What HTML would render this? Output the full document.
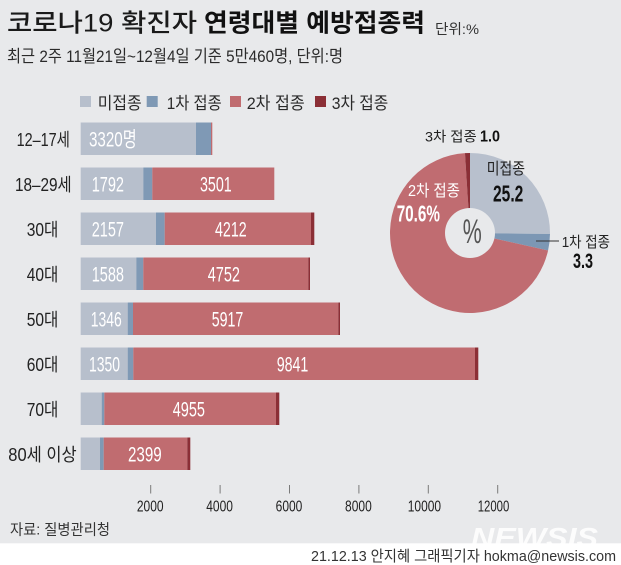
<!DOCTYPE html>
<html><head><meta charset="utf-8">
<style>
html,body{margin:0;padding:0;background:#e8e9eb;}
svg{display:block;}
text{font-family:"Liberation Sans","Noto Sans CJK KR",sans-serif;}
</style></head>
<body>
<svg width="621" height="565" viewBox="0 0 621 565" xmlns="http://www.w3.org/2000/svg">
<rect x="0" y="0" width="621" height="565" fill="#e8e9eb"/>
<rect x="0" y="543.3" width="621" height="22" fill="#ffffff"/>

<!-- Title -->
<text x="7" y="31.5" font-size="25" font-weight="500" fill="#1a1a1a" textLength="190" lengthAdjust="spacingAndGlyphs">코로나19 확진자</text>
<text x="204" y="31.5" font-size="25" font-weight="bold" fill="#111" textLength="221" lengthAdjust="spacingAndGlyphs">연령대별 예방접종력</text>
<text x="435" y="34" font-size="14" fill="#333" textLength="44" lengthAdjust="spacingAndGlyphs">단위:%</text>

<!-- Subtitle -->
<text x="7" y="62" font-size="17" fill="#2a2a2a" textLength="336" lengthAdjust="spacingAndGlyphs">최근 2주 11월21일~12월4일 기준 5만460명, 단위:명</text>

<!-- Legend -->
<rect x="80" y="96" width="11" height="11" fill="#b7bfcc"/>
<text x="97.7" y="109" font-size="17" fill="#2a2a2a" textLength="44" lengthAdjust="spacingAndGlyphs">미접종</text>
<rect x="146.7" y="96" width="11" height="11" fill="#7f99b5"/>
<text x="166.7" y="109" font-size="17" fill="#2a2a2a" textLength="55" lengthAdjust="spacingAndGlyphs">1차 접종</text>
<rect x="230" y="96" width="11" height="11" fill="#c06c70"/>
<text x="246.7" y="109" font-size="17" fill="#2a2a2a" textLength="58" lengthAdjust="spacingAndGlyphs">2차 접종</text>
<rect x="315" y="96" width="11" height="11" fill="#8b2f36"/>
<text x="331.7" y="109" font-size="17" fill="#2a2a2a" textLength="56.6" lengthAdjust="spacingAndGlyphs">3차 접종</text>

<!-- Row labels -->
<g font-size="18" fill="#222" text-anchor="middle">
<text x="43.3" y="146" textLength="53.3" lengthAdjust="spacingAndGlyphs">12–17세</text>
<text x="43.3" y="191" textLength="56.7" lengthAdjust="spacingAndGlyphs">18–29세</text>
<text x="42.5" y="236" textLength="31.6" lengthAdjust="spacingAndGlyphs">30대</text>
<text x="42.5" y="281" textLength="31.6" lengthAdjust="spacingAndGlyphs">40대</text>
<text x="42.5" y="326" textLength="31.6" lengthAdjust="spacingAndGlyphs">50대</text>
<text x="42.5" y="371" textLength="31.6" lengthAdjust="spacingAndGlyphs">60대</text>
<text x="42.5" y="416" textLength="31.6" lengthAdjust="spacingAndGlyphs">70대</text>
<text x="42.5" y="461" textLength="68.4" lengthAdjust="spacingAndGlyphs">80세 이상</text>
</g>

<!-- Bars -->
<g>
<!-- row1 -->
<rect x="80.7" y="122.5" width="115.3" height="32.5" fill="#b7bfcc"/>
<rect x="196" y="122.5" width="15" height="32.5" fill="#7f99b5"/>
<rect x="211" y="122.5" width="1.3" height="32.5" fill="#c06c70"/>
<!-- row2 -->
<rect x="80.7" y="167.5" width="62.6" height="32.5" fill="#b7bfcc"/>
<rect x="143.3" y="167.5" width="9" height="32.5" fill="#7f99b5"/>
<rect x="152.3" y="167.5" width="122" height="32.5" fill="#c06c70"/>
<!-- row3 -->
<rect x="80.7" y="212.5" width="75.3" height="32.5" fill="#b7bfcc"/>
<rect x="156" y="212.5" width="8.7" height="32.5" fill="#7f99b5"/>
<rect x="164.7" y="212.5" width="146.3" height="32.5" fill="#c06c70"/>
<rect x="311" y="212.5" width="3.3" height="32.5" fill="#8b2f36"/>
<!-- row4 -->
<rect x="80.7" y="257.5" width="55.6" height="32.5" fill="#b7bfcc"/>
<rect x="136.3" y="257.5" width="7" height="32.5" fill="#7f99b5"/>
<rect x="143.3" y="257.5" width="165" height="32.5" fill="#c06c70"/>
<rect x="308.3" y="257.5" width="1.7" height="32.5" fill="#8b2f36"/>
<!-- row5 -->
<rect x="80.7" y="302.5" width="47" height="32.5" fill="#b7bfcc"/>
<rect x="127.7" y="302.5" width="5.3" height="32.5" fill="#7f99b5"/>
<rect x="133" y="302.5" width="205.3" height="32.5" fill="#c06c70"/>
<rect x="338.3" y="302.5" width="1.7" height="32.5" fill="#8b2f36"/>
<!-- row6 -->
<rect x="80.7" y="347.5" width="47" height="32.5" fill="#b7bfcc"/>
<rect x="127.7" y="347.5" width="5.6" height="32.5" fill="#7f99b5"/>
<rect x="133.3" y="347.5" width="341.7" height="32.5" fill="#c06c70"/>
<rect x="475" y="347.5" width="3.3" height="32.5" fill="#8b2f36"/>
<!-- row7 -->
<rect x="80.7" y="392.5" width="21" height="32.5" fill="#b7bfcc"/>
<rect x="101.7" y="392.5" width="2.6" height="32.5" fill="#7f99b5"/>
<rect x="104.3" y="392.5" width="171.7" height="32.5" fill="#c06c70"/>
<rect x="276" y="392.5" width="3.3" height="32.5" fill="#8b2f36"/>
<!-- row8 -->
<rect x="80.7" y="437.5" width="19.3" height="32.5" fill="#b7bfcc"/>
<rect x="100" y="437.5" width="3.7" height="32.5" fill="#7f99b5"/>
<rect x="103.7" y="437.5" width="83.6" height="32.5" fill="#c06c70"/>
<rect x="187.3" y="437.5" width="3" height="32.5" fill="#8b2f36"/>
</g>

<!-- Bar value labels -->
<g font-size="21" fill="#ffffff">
<text x="89" y="146.7" textLength="47.7" lengthAdjust="spacingAndGlyphs">3320명</text>
<text x="91.7" y="191.7" textLength="32.3" lengthAdjust="spacingAndGlyphs">1792</text>
<text x="200" y="191.7" textLength="31.7" lengthAdjust="spacingAndGlyphs">3501</text>
<text x="91.7" y="236.7" textLength="32.3" lengthAdjust="spacingAndGlyphs">2157</text>
<text x="215" y="236.7" textLength="31.7" lengthAdjust="spacingAndGlyphs">4212</text>
<text x="91.7" y="281.7" textLength="32.3" lengthAdjust="spacingAndGlyphs">1588</text>
<text x="207.7" y="281.7" textLength="32.3" lengthAdjust="spacingAndGlyphs">4752</text>
<text x="90.7" y="326.7" textLength="31" lengthAdjust="spacingAndGlyphs">1346</text>
<text x="211.7" y="326.7" textLength="31.6" lengthAdjust="spacingAndGlyphs">5917</text>
<text x="89" y="371.7" textLength="31" lengthAdjust="spacingAndGlyphs">1350</text>
<text x="276.7" y="371.7" textLength="31.6" lengthAdjust="spacingAndGlyphs">9841</text>
<text x="172.7" y="416.7" textLength="32.3" lengthAdjust="spacingAndGlyphs">4955</text>
<text x="128" y="461.7" textLength="33.7" lengthAdjust="spacingAndGlyphs">2399</text>
</g>

<!-- Axis ticks -->
<g stroke="#7a7a7a" stroke-width="1">
<line x1="150.7" y1="485" x2="150.7" y2="493.5"/>
<line x1="220.1" y1="485" x2="220.1" y2="493.5"/>
<line x1="289.5" y1="485" x2="289.5" y2="493.5"/>
<line x1="358.9" y1="485" x2="358.9" y2="493.5"/>
<line x1="428.3" y1="485" x2="428.3" y2="493.5"/>
<line x1="497.7" y1="485" x2="497.7" y2="493.5"/>
</g>
<g font-size="16" fill="#222" text-anchor="middle">
<text x="150.2" y="511.7" textLength="26.7" lengthAdjust="spacingAndGlyphs">2000</text>
<text x="219.6" y="511.7" textLength="26.7" lengthAdjust="spacingAndGlyphs">4000</text>
<text x="289" y="511.7" textLength="26.7" lengthAdjust="spacingAndGlyphs">6000</text>
<text x="358.4" y="511.7" textLength="26.7" lengthAdjust="spacingAndGlyphs">8000</text>
<text x="424.4" y="511.7" textLength="33.3" lengthAdjust="spacingAndGlyphs">10000</text>
<text x="493.5" y="511.7" textLength="31.6" lengthAdjust="spacingAndGlyphs">12000</text>
</g>

<!-- Pie -->
<path d="M470,233 L470,153 A80,80 0 0 1 549.99,234 Z" fill="#b8c0cd"/>
<path d="M470,233 L549.99,234 A80,80 0 0 1 548.07,250.45 Z" fill="#7c97b4"/>
<path d="M470,233 L548.07,250.45 A80,80 0 1 1 464.98,153.16 Z" fill="#c06c71"/>
<path d="M470,233 L464.98,153.16 A80,80 0 0 1 470,153 Z" fill="#8a2f36"/>
<circle cx="470" cy="233" r="25" fill="#e8e9eb"/>
<text x="462.7" y="243" font-size="34" fill="#555" textLength="19" lengthAdjust="spacingAndGlyphs">%</text>

<text x="425" y="141.5" font-size="14" fill="#222" textLength="51.7" lengthAdjust="spacingAndGlyphs">3차 접종</text>
<text x="480" y="141.7" font-size="16" font-weight="bold" fill="#111" textLength="20" lengthAdjust="spacingAndGlyphs">1.0</text>

<text x="486.7" y="174" font-size="16" fill="#222" textLength="38.3" lengthAdjust="spacingAndGlyphs">미접종</text>
<text x="493" y="201.7" font-size="23" font-weight="bold" fill="#111" textLength="30.3" lengthAdjust="spacingAndGlyphs">25.2</text>

<text x="408" y="196" font-size="16" fill="#ffffff" textLength="52" lengthAdjust="spacingAndGlyphs">2차 접종</text>
<text x="396.7" y="221.7" font-size="23" font-weight="bold" fill="#ffffff" textLength="43.3" lengthAdjust="spacingAndGlyphs">70.6%</text>

<line x1="536" y1="241" x2="559" y2="241" stroke="#333" stroke-width="1"/>
<text x="561.7" y="247" font-size="15" fill="#222" textLength="48.3" lengthAdjust="spacingAndGlyphs">1차 접종</text>
<text x="573" y="268" font-size="21" font-weight="bold" fill="#111" textLength="20" lengthAdjust="spacingAndGlyphs">3.3</text>

<!-- Footer -->
<text x="10" y="534.5" font-size="15" fill="#333" textLength="100" lengthAdjust="spacingAndGlyphs">자료: 질병관리청</text>
<text x="471" y="547" font-size="28" font-weight="bold" font-style="italic" fill="#ffffff" fill-opacity="0.85" textLength="127" lengthAdjust="spacingAndGlyphs">NEWSIS</text>
<text x="311" y="561" font-size="15" fill="#333" textLength="305" lengthAdjust="spacingAndGlyphs">21.12.13 안지혜 그래픽기자 hokma@newsis.com</text>
</svg>
</body></html>
